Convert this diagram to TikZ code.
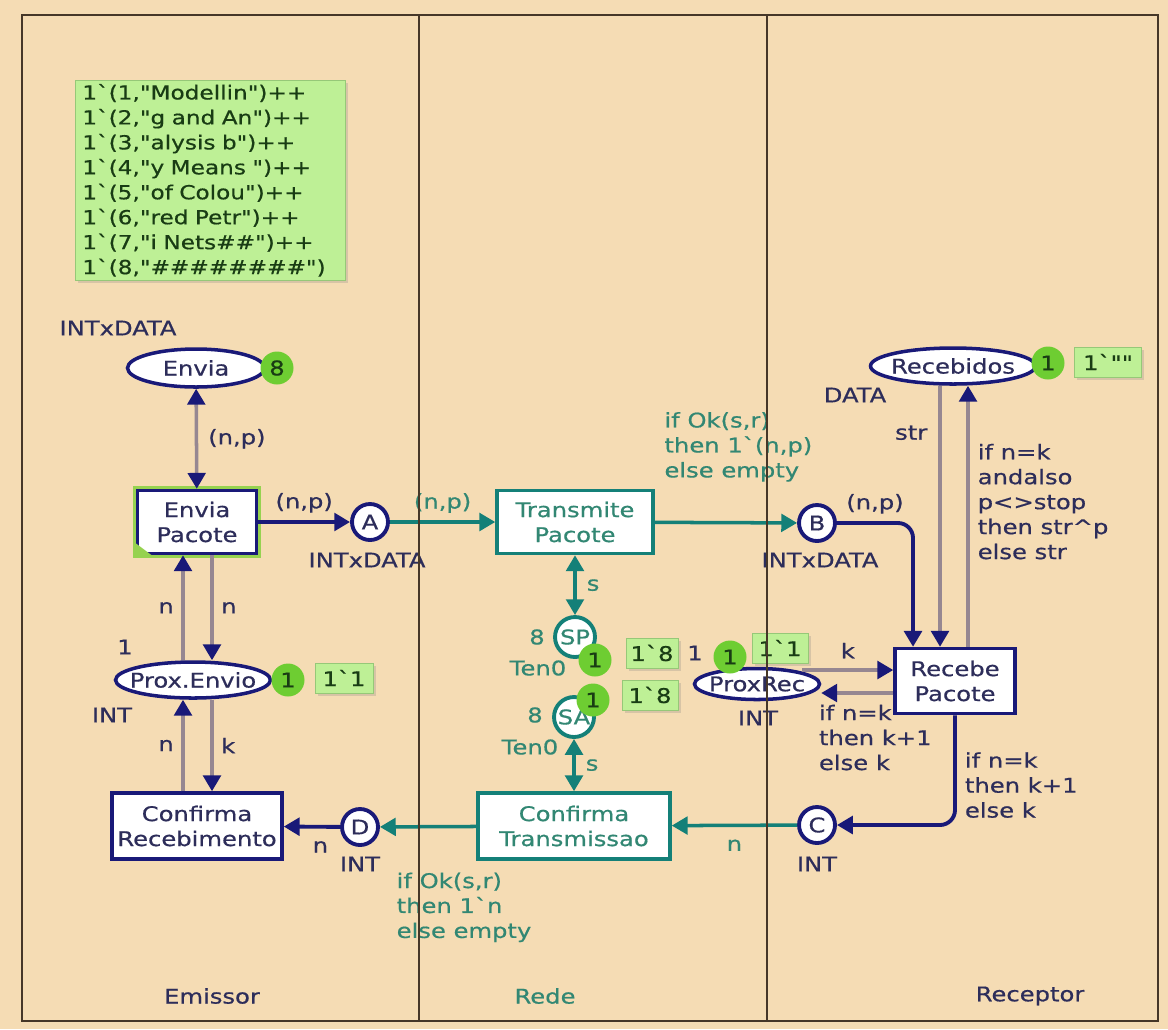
\documentclass[tikz,border=0pt]{standalone}
\usepackage{fontspec}
\usepackage{tikz}
\usetikzlibrary{positioning, arrows.meta, shapes, calc, shadows}
\newfontfamily\cpn{DejaVu Sans}[FakeStretch=1.2, FakeBold=0.6]
\newcommand\plname[1]{\makebox[0pt]{#1}}
\definecolor{bgc}{RGB}{245,220,180}
\definecolor{framec}{RGB}{70,55,40}
\definecolor{navyc}{RGB}{25,25,120}
\definecolor{inkc}{RGB}{45,45,90}
\definecolor{tealc}{RGB}{20,128,120}
\definecolor{tinkc}{RGB}{50,135,115}
\definecolor{greyc}{RGB}{150,135,145}
\definecolor{tokc}{RGB}{110,205,50}
\definecolor{tokfill}{RGB}{190,240,150}
\definecolor{tokdraw}{RGB}{150,200,120}
\definecolor{toktext}{RGB}{25,60,20}
\definecolor{glowc}{RGB}{150,210,80}

\begin{document}
\begin{tikzpicture}[
        x=0.02cm, y=-0.02cm,
        every node/.style={font=\cpn\fontsize{11.5}{14.2}\selectfont},
        place/.style={ellipse, draw=navyc, line width=2pt, fill=white, text=inkc, inner sep=0pt},
        cplace/.style={circle, draw=navyc, line width=2.2pt, fill=white, text=inkc, minimum size=0.72cm, inner sep=0pt},
        tcplace/.style={cplace, draw=tealc, text=tinkc},
        trans/.style={rectangle, draw=navyc, line width=2pt, fill=white, text=inkc, align=center, inner sep=0pt},
        ttrans/.style={trans, draw=tealc, text=tinkc},
        token/.style={circle, fill=tokc, minimum size=0.66cm, inner sep=0pt, text=toktext},
        tokbox/.style={rectangle, draw=tokdraw, fill=tokfill, text=toktext, inner sep=0pt, minimum height=0.6cm,
            drop shadow={opacity=0.25, shadow xshift=1.5pt, shadow yshift=-1.5pt}},
        lbl/.style={text=inkc, inner sep=0pt},
        tlbl/.style={text=tinkc, inner sep=0pt},
        narc/.style={draw=navyc, line width=2.2pt, >={Triangle[length=9pt,width=10pt]}, ->},
        garc/.style={draw=greyc, line width=2pt, >={Triangle[length=9pt,width=10pt,color=navyc]}, ->},
        tarc/.style={draw=tealc, line width=2pt, >={Triangle[length=9pt,width=10pt]}, ->}
    ]
    \fill[bgc] (0,0) rectangle (1168,1029);
    \useasboundingbox (0,0) rectangle (1168,1029);

    % initial marking of Envia
    \node[tokbox, anchor=north west, minimum height=4.0cm, align=left, inner xsep=0.14cm, text width=5.12cm,
        font=\cpn\fontsize{11}{14.2}\selectfont] (initmark) at (75,80)
        {1`(1,"Modellin")++\\1`(2,"g and An")++\\1`(3,"alysis b")++\\1`(4,"y Means ")++\\
         1`(5,"of Colou")++\\1`(6,"red Petr")++\\1`(7,"i Nets\#\#")++\\1`(8,"\#\#\#\#\#\#\#\#")};

    % places and transitions
    \node[place, minimum width=2.74cm, minimum height=0.76cm] (envia) at (196,368) {\plname{Envia}};
    \node[lbl] (enviatype) at (118,328) {INTxDATA};
    \node[trans, minimum width=2.38cm, minimum height=1.26cm, preaction={draw=glowc, line width=5pt}] (envpac) at (197,522) {Envia\\Pacote};
    \fill[glowc] (envpac.south west) -- ([xshift=0.32cm]envpac.south west) -- ([yshift=0.24cm]envpac.south west) -- cycle;
    \node[cplace] (A) at (370,522) {A};
    \node[lbl] (Atype) at (367,560) {INTxDATA};
    \node[ttrans, minimum width=3.12cm, minimum height=1.26cm] (transp) at (575,522) {Transmite\\Pacote};
    \node[cplace] (B) at (817,523) {B};
    \node[lbl] (Btype) at (820,560) {INTxDATA};
    \node[place, minimum width=3.3cm, minimum height=0.72cm] (receb) at (953,366) {\plname{Recebidos}};
    \node[lbl] (recebtype) at (855,395) {DATA};
    \node[trans, minimum width=2.4cm, minimum height=1.3cm] (recpac) at (955,681) {Recebe\\Pacote};
    \node[place, minimum width=2.5cm, minimum height=0.62cm] (proxrec) at (757,684) {\plname{ProxRec}};
    \node[lbl] (proxrectype) at (758,718) {INT};
    \node[lbl] (proxrecinit) at (695,653) {1};
    \node[cplace] (C) at (817,825) {C};
    \node[lbl] (Ctype) at (817,864) {INT};
    \node[ttrans, minimum width=3.84cm, minimum height=1.32cm] (conftr) at (574,826) {Confirma\\Transmissao};
    \node[cplace] (D) at (360,827) {D};
    \node[lbl] (Dtype) at (360,864) {INT};
    \node[trans, minimum width=3.4cm, minimum height=1.32cm] (confrec) at (197,826) {Confirma\\Recebimento};
    \node[place, minimum width=3.1cm, minimum height=0.72cm] (penv) at (193,680) {\plname{Prox.Envio}};
    \node[lbl] (penvtype) at (112,715) {INT};
    \node[lbl] (penvinit) at (125,647) {1};
    \node[tcplace, minimum size=0.8cm] (SP) at (575,637) {SP};
    \node[tlbl] (SPinit) at (537,637) {8};
    \node[tlbl] (SPtype) at (538,668) {Ten0};
    \node[tcplace, minimum size=0.8cm] (SA) at (574,717) {SA};
    \node[tlbl] (SAinit) at (535,715) {8};
    \node[tlbl] (SAtype) at (530,747) {Ten0};

    % markings
    \foreach \nm/\x/\y/\v/\w in {receb/1108/362/{1`""}/1.34, penv/344/678/1`1/1.16, proxrec/780/648/1`1/1.12,
                                SP/652/653/1`8/1.04, SA/650/695/1`8/1.12} {
        \node[tokbox, minimum width=\w cm] (val\nm) at (\x,\y) {\v};
    }
    \foreach \nm/\x/\y/\v in {envia/277/368/8, receb/1048/363/1, penv/288/680/1,
                             proxrec/730/657/1, SP/595/660/1, SA/593/700/1} {
        \node[token] (tok\nm) at (\x,\y) {\v};
    }

    % arcs of Emissor
    \draw[garc, <->] (envia) -- (envpac) node[lbl, midway, right=0.2cm] (lenvia) {(n,p)};
    \draw[narc] (envpac) -- (A) node[lbl, midway, above=0.15cm] (lenvpac) {(n,p)};
    \draw[garc] ([xshift=-0.28cm]envpac.south |- penv.north) -- ([xshift=-0.28cm]envpac.south)
        node[lbl, midway, left=0.15cm] (lpe1) {n};
    \draw[garc] ([xshift=0.3cm]envpac.south) -- ([xshift=0.3cm]envpac.south |- penv.north)
        node[lbl, midway, right=0.15cm] (lpe2) {n};
    \draw[garc] ([xshift=-0.28cm]confrec.north) -- ([xshift=-0.28cm]confrec.north |- penv.south)
        node[lbl, midway, left=0.15cm] (lcr1) {n};
    \draw[garc] ([xshift=0.3cm]confrec.north |- penv.south) -- ([xshift=0.3cm]confrec.north)
        node[lbl, midway, right=0.15cm] (lcr2) {k};
    \draw[narc] (D) -- (confrec) node[lbl, pos=0.35, below=0.25cm] (lD) {n};

    % arcs of Rede
    \draw[tarc] (A) -- (transp) node[tlbl, midway, above=0.15cm] (lA) {(n,p)};
    \draw[tarc] (transp) -- (B) node[tlbl, align=left, pos=0, anchor=south west, xshift=0.16cm, yshift=0.78cm] (lok)
        {if Ok(s,r)\\then 1`(n,p)\\else empty};
    \draw[tarc, <->] (transp) -- (SP) node[tlbl, midway, right=0.2cm] (lsp) {s};
    \draw[tarc, <->] (SA) -- (conftr) node[tlbl, midway, right=0.2cm] (lsa) {s};
    \draw[tarc] (C) -- (conftr) node[tlbl, midway, below=0.25cm] (lC) {n};
    \draw[tarc] (conftr) -- (D) node[tlbl, align=left, pos=1, anchor=north west, xshift=0.3cm, yshift=-0.88cm] (lokn)
        {if Ok(s,r)\\then 1`n\\else empty};

    % arcs of Receptor
    \draw[narc, rounded corners=0.3cm] (B) -| ([xshift=-0.84cm]recpac.north)
        node[lbl, pos=0.25, above=0.15cm] (lB) {(n,p)};
    \draw[garc] ([xshift=-0.3cm]recpac.north |- receb.south) -- ([xshift=-0.3cm]recpac.north)
        node[lbl, pos=0.18, left=0.22cm] (lstr) {str};
    \draw[garc] ([xshift=0.26cm]recpac.north) -- ([xshift=0.26cm]recpac.north |- receb.south)
        node[lbl, align=left, pos=0.784, anchor=north west, xshift=0.16cm] (lstrp)
        {if n=k\\andalso\\p<>stop\\then str\textasciicircum p\\else str};
    \coordinate (kin) at ([yshift=0.22cm]recpac.west);
    \coordinate (kout) at ([yshift=-0.24cm]recpac.west);
    \draw[garc] (proxrec.north east |- kin) -- (kin) node[lbl, midway, above=0.2cm] (lk) {k};
    \draw[garc] (kout) -- (proxrec.east |- kout)
        node[lbl, align=left, pos=1, anchor=north west, xshift=-0.08cm, yshift=-0.2cm] (lkk)
        {if n=k\\then k+1\\else k};
    \draw[narc, rounded corners=0.3cm] (recpac.south) |- (C)
        node[lbl, align=left, pos=0.318, anchor=west, xshift=0.16cm] (lkc)
        {if n=k\\then k+1\\else k};

    % lanes
    \foreach \x/\name/\col in {212/Emissor/inkc, 545/Rede/tinkc, 1030/Receptor/inkc} {
        \node[text=\col] (\name) at (\x,996) {\name};
    }
    \draw[framec, line width=1.3pt] (22,15) rectangle (1158,1021);
    \foreach \x in {419,767} {
        \draw[framec, line width=1.3pt] (\x,15) -- (\x,1021);
    }
\end{tikzpicture}
\end{document}
